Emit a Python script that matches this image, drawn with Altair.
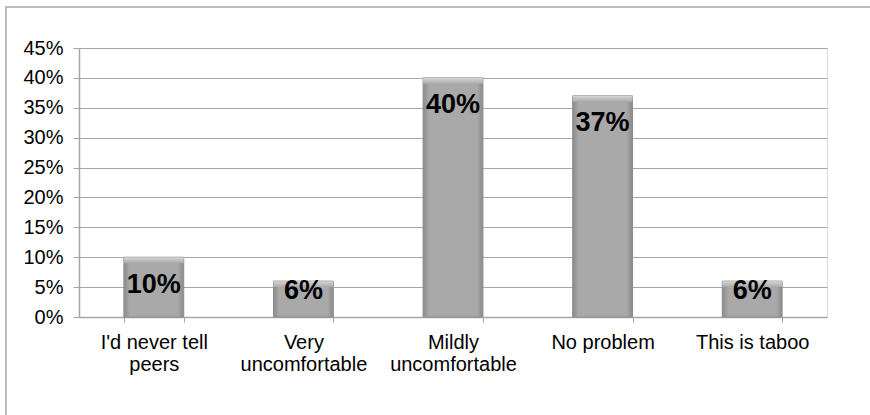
import altair as alt
import pandas as pd

# Survey answers and their shares
categories = [
    "I'd never tell\npeers",
    "Very\nuncomfortable",
    "Mildly\nuncomfortable",
    "No problem",
    "This is taboo",
]
shares = [0.10, 0.06, 0.40, 0.37, 0.06]
y_ticks = [0.0, 0.05, 0.10, 0.15, 0.20, 0.25, 0.30, 0.35, 0.40, 0.45]

df = pd.DataFrame({"category": categories, "share": shares})

FONT = "Liberation Sans"
GRID = "#a6a6a6"

x_enc = alt.X(
    "category:N",
    sort=categories,
    scale=alt.Scale(paddingInner=0.6, paddingOuter=0.3),
    axis=alt.Axis(
        title=None,
        labelAngle=0,
        labelExpr="split(datum.label, '\\n')",
        labelFont=FONT,
        labelFontSize=20,
        labelColor="black",
        labelLineHeight=22,
        labelPadding=10,
        tickBand="extent",
        tickSize=5,
        tickColor=GRID,
        domainColor=GRID,
        domainWidth=1.5,
        grid=False,
    ),
)

y_scale = alt.Scale(domain=[0, 0.45], nice=False)
y_axis = alt.Axis(
    title=None,
    values=y_ticks,
    format=".0%",
    labelOverlap=False,
    labelFont=FONT,
    labelFontSize=20,
    labelColor="black",
    labelPadding=10,
    tickSize=6,
    tickColor=GRID,
    gridColor=GRID,
    gridWidth=1,
    domainColor=GRID,
    domainWidth=1.5,
)

# Horizontal shading across each bar: darker edges, lighter middle
bar_fill = alt.Gradient(
    gradient="linear",
    x1=0, x2=1, y1=0, y2=0,
    stops=[
        alt.GradientStop(color="#8a8a8a", offset=0),
        alt.GradientStop(color="#a9a9a9", offset=0.1),
        alt.GradientStop(color="#a9a9a9", offset=0.9),
        alt.GradientStop(color="#8a8a8a", offset=1),
    ],
)

# Bevel highlight along the top edge of each bar
bevel_fill = alt.Gradient(
    gradient="linear",
    x1=0, x2=0, y1=0, y2=1,
    stops=[
        alt.GradientStop(color="#d6d6d6", offset=0),
        alt.GradientStop(color="#a9a9a9", offset=1),
    ],
)

bars = alt.Chart(df).mark_bar(
    color=bar_fill, stroke="#8c8c8c", strokeWidth=1
).encode(
    x=x_enc,
    y=alt.Y("share:Q", scale=y_scale, axis=y_axis),
)

bevel = alt.Chart(df).transform_calculate(
    bevel_low="datum.share - 0.01"
).mark_bar(
    color=bevel_fill, strokeWidth=0
).encode(
    x=x_enc,
    y=alt.Y("share:Q", scale=y_scale, axis=y_axis),
    y2="bevel_low:Q",
)

labels = alt.Chart(df).transform_calculate(
    label_y="max(datum.share - 0.046, 0.044)"
).mark_text(
    font=FONT, fontSize=27, fontWeight="bold", color="black", baseline="middle"
).encode(
    x=x_enc,
    y=alt.Y("label_y:Q", scale=y_scale, axis=y_axis),
    text=alt.Text("share:Q", format=".0%"),
)

# Outer frame around the whole chart area
frame = alt.Chart(alt.Data(values=[{}])).mark_rect(
    fillOpacity=0, stroke="#a6a6a6", strokeWidth=1.5
).encode(
    x=alt.value(-73), x2=alt.value(800), y=alt.value(-41), y2=alt.value(380)
)

chart = alt.layer(frame, bars, bevel, labels).properties(
    width=748,
    height=269,
    autosize=alt.AutoSizeParams(type="none"),
    padding={"left": 79, "top": 48, "right": 43, "bottom": 98},
).configure_view(stroke=None).configure(background="white")

chart.save("out.html", embed_options={"renderer": "svg", "actions": False})
